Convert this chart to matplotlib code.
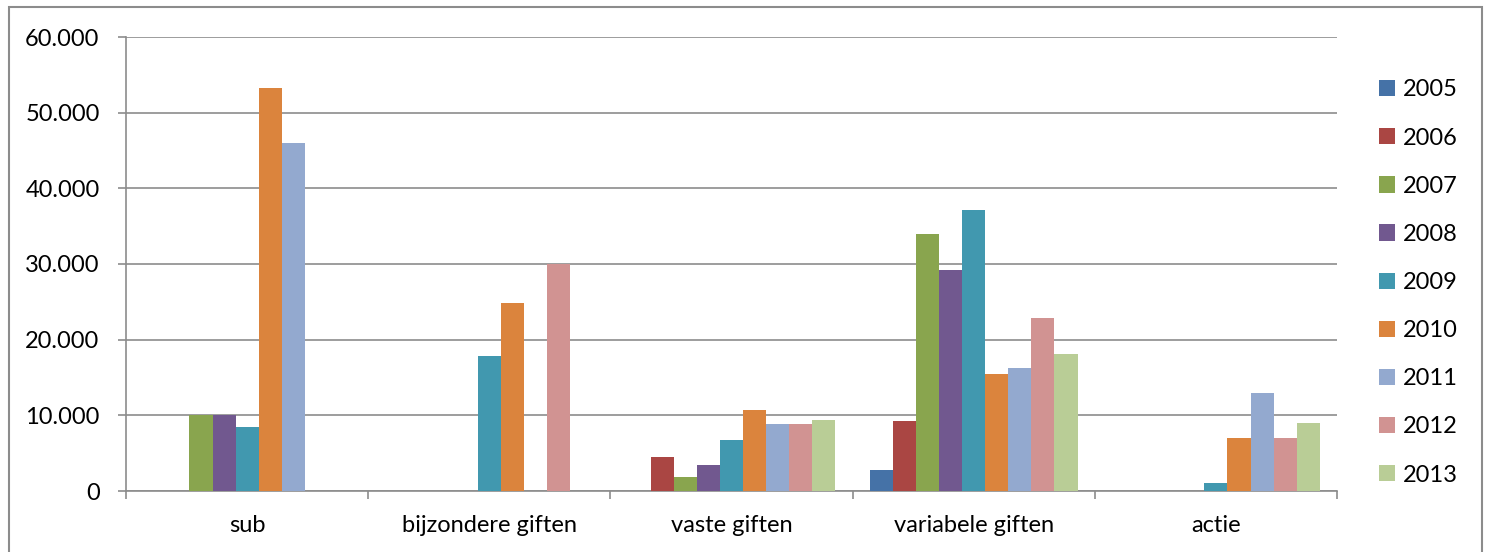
import matplotlib
matplotlib.use("Agg")
import matplotlib.pyplot as plt
from matplotlib.patches import Rectangle, Patch
from matplotlib.ticker import FuncFormatter, FixedLocator
import numpy as np

plt.rcParams['font.family'] = ['Lato', 'DejaVu Sans']

categories = ["sub", "bijzondere giften", "vaste giften", "variabele giften", "actie"]
years = ["2005", "2006", "2007", "2008", "2009", "2010", "2011", "2012", "2013"]

# values per year, in category order
v2005 = [0, 0, 0, 2800, 0]
v2006 = [0, 0, 4500, 9200, 0]
v2007 = [10000, 0, 1900, 33900, 0]
v2008 = [10000, 0, 3500, 29200, 0]
v2009 = [8500, 17900, 6800, 37100, 1000]
v2010 = [53200, 24800, 10700, 15400, 7000]
v2011 = [46000, 0, 8850, 16200, 13000]
v2012 = [0, 30000, 8800, 22900, 7000]
v2013 = [0, 0, 9400, 18100, 9000]
series = [v2005, v2006, v2007, v2008, v2009, v2010, v2011, v2012, v2013]

colors = ["#4572A7", "#AA4643", "#89A54E", "#71588F", "#4198AF",
          "#DB843D", "#93A9CF", "#D19392", "#B9CD96"]

W, H = 1486, 552
fig = plt.figure(figsize=(W / 100, H / 100), dpi=100)
ax = fig.add_axes([126 / W, 1 - 491 / H, (1337 - 126) / W, (491 - 37) / H])

grid_c = "#8C8C8C"
n = len(series)
bw = 1.0 / (n + 1.5)
x = np.arange(len(categories))
for i, (vals, c) in enumerate(zip(series, colors)):
    off = (i - (n - 1) / 2) * bw
    ax.bar(x + off, vals, width=bw, color=c, linewidth=0, zorder=3)

ax.set_xlim(-0.5, len(categories) - 0.5)
ax.set_ylim(0, 60000)
ax.set_yticks(np.arange(0, 60001, 10000))
ax.yaxis.set_major_formatter(FuncFormatter(lambda v, p: f"{int(v):,}".replace(",", ".")))
ax.yaxis.grid(True, color=grid_c, linewidth=1.2, zorder=1)
ax.set_axisbelow(True)

ax.set_xticks(x)
ax.set_xticklabels(categories)
ax.xaxis.set_minor_locator(FixedLocator(np.arange(-0.5, len(categories), 1.0)))
ax.tick_params(axis='x', which='major', length=0, pad=17, labelsize=17)
ax.tick_params(axis='x', which='minor', length=6, width=1.2, color=grid_c, direction='out')
ax.tick_params(axis='y', length=6, width=1.2, color=grid_c, direction='out', pad=13, labelsize=17)

for s in ["top", "right"]:
    ax.spines[s].set_visible(False)
for s in ["left", "bottom"]:
    ax.spines[s].set_color(grid_c)
    ax.spines[s].set_linewidth(1.2)

handles = [Patch(facecolor=c, edgecolor='none', label=y) for c, y in zip(colors, years)]
fig.legend(handles=handles, loc='center left', bbox_to_anchor=(1379 / W, 1 - 282.5 / H),
           frameon=False, fontsize=17, borderpad=0, borderaxespad=0,
           handlelength=0.68, handleheight=0.68, handletextpad=0.35, labelspacing=1.15)

fig.patches.append(Rectangle((9 / W, -0.1), (1482 - 9) / W, 1.1 - 7 / H,
                             transform=fig.transFigure, fill=False,
                             edgecolor=grid_c, linewidth=1.5))

fig.savefig("out.png", dpi=100)
